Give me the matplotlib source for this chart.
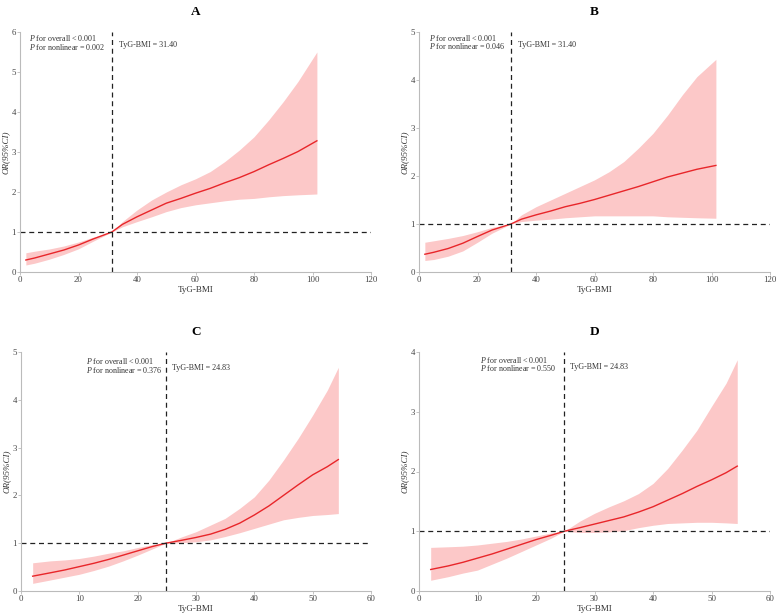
import matplotlib
matplotlib.use("Agg")
import matplotlib.pyplot as plt

plt.rcParams['font.family'] = ['Liberation Serif', 'DejaVu Serif']
plt.rcParams['mathtext.fontset'] = 'custom'
plt.rcParams['mathtext.it'] = 'Liberation Serif:italic'
plt.rcParams['mathtext.rm'] = 'Liberation Serif'

# Panel A
a_x = [2, 5, 10, 15, 20, 25, 31.4, 35, 40, 45, 50, 55, 60, 65, 70, 75, 80, 85, 90, 95, 101.5]
a_or = [0.30, 0.35, 0.45, 0.55, 0.675, 0.825, 1.0, 1.19, 1.38, 1.55, 1.72, 1.84, 1.97, 2.09,
        2.23, 2.36, 2.51, 2.68, 2.84, 3.01, 3.28]
a_lo = [0.175, 0.22, 0.32, 0.44, 0.58, 0.77, 1.0, 1.13, 1.26, 1.38, 1.51, 1.61, 1.68, 1.73,
        1.78, 1.82, 1.84, 1.88, 1.91, 1.93, 1.95]
a_hi = [0.48, 0.52, 0.575, 0.65, 0.75, 0.87, 1.0, 1.26, 1.55, 1.80, 2.0, 2.18, 2.33, 2.51,
        2.76, 3.05, 3.38, 3.8, 4.26, 4.76, 5.5]

# Panel B
b_x = [2, 5, 10, 15, 20, 25, 31.4, 35, 40, 45, 50, 55, 60, 65, 70, 75, 80, 85, 90, 95, 101.5]
b_or = [0.37, 0.41, 0.49, 0.60, 0.74, 0.875, 1.0, 1.10, 1.19, 1.27, 1.36, 1.43, 1.51, 1.60,
        1.69, 1.78, 1.88, 1.98, 2.06, 2.14, 2.22]
b_lo = [0.24, 0.26, 0.33, 0.44, 0.62, 0.81, 1.0, 1.05, 1.08, 1.10, 1.13, 1.15, 1.17, 1.17,
        1.17, 1.17, 1.17, 1.15, 1.14, 1.13, 1.12]
b_hi = [0.62, 0.65, 0.70, 0.76, 0.84, 0.93, 1.0, 1.19, 1.36, 1.50, 1.64, 1.78, 1.92, 2.09,
        2.30, 2.58, 2.89, 3.27, 3.69, 4.07, 4.43]

# Panel C
c_x = [2, 5, 7.5, 10, 12.5, 15, 17.5, 20, 22.5, 24.83, 27.5, 30, 32.5, 35, 37.5, 40,
       42.5, 45, 47.5, 50, 52.5, 54.4]
c_or = [0.31, 0.38, 0.44, 0.51, 0.58, 0.66, 0.75, 0.84, 0.93, 1.0, 1.06, 1.12, 1.19, 1.29,
        1.42, 1.59, 1.78, 2.0, 2.22, 2.43, 2.6, 2.75]
c_lo = [0.16, 0.23, 0.29, 0.35, 0.43, 0.52, 0.63, 0.75, 0.88, 1.0, 1.01, 1.03, 1.07, 1.14,
        1.22, 1.31, 1.40, 1.49, 1.54, 1.58, 1.60, 1.62]
c_hi = [0.59, 0.63, 0.65, 0.68, 0.73, 0.79, 0.84, 0.91, 0.97, 1.0, 1.13, 1.24, 1.38, 1.52,
        1.73, 1.97, 2.32, 2.74, 3.19, 3.68, 4.2, 4.68]

# Panel D
d_x = [2, 5, 7.5, 10, 12.5, 15, 17.5, 20, 22.5, 24.83, 27.5, 30, 32.5, 35, 37.5, 40,
       42.5, 45, 47.5, 50, 52.5, 54.4]
d_or = [0.36, 0.42, 0.48, 0.55, 0.62, 0.70, 0.78, 0.86, 0.93, 1.0, 1.06, 1.12, 1.18, 1.24,
        1.32, 1.41, 1.52, 1.63, 1.75, 1.86, 1.98, 2.09]
d_lo = [0.18, 0.24, 0.30, 0.35, 0.45, 0.55, 0.66, 0.77, 0.88, 1.0, 0.98, 0.98, 0.99, 1.01,
        1.06, 1.10, 1.13, 1.14, 1.15, 1.15, 1.14, 1.13]
d_hi = [0.73, 0.74, 0.75, 0.77, 0.80, 0.83, 0.87, 0.92, 0.97, 1.0, 1.17, 1.30, 1.41, 1.51,
        1.63, 1.80, 2.05, 2.36, 2.69, 3.09, 3.48, 3.87]

panels = [
    dict(title="A", x=a_x, y=a_or, lo=a_lo, hi=a_hi, cut=31.4, label="TyG-BMI = 31.40",
         p1="< 0.001", p2="= 0.002", xlim=120, xt=[0, 20, 40, 60, 80, 100, 120], ylim=6,
         px=3.0, lx=33.8, tf=0.975, pos=(20, 32, 351, 240)),
    dict(title="B", x=b_x, y=b_or, lo=b_lo, hi=b_hi, cut=31.4, label="TyG-BMI = 31.40",
         p1="< 0.001", p2="= 0.046", xlim=120, xt=[0, 20, 40, 60, 80, 100, 120], ylim=5,
         px=3.4, lx=33.8, tf=0.976, pos=(419, 32, 351, 240)),
    dict(title="C", x=c_x, y=c_or, lo=c_lo, hi=c_hi, cut=24.83, label="TyG-BMI = 24.83",
         p1="< 0.001", p2="= 0.376", xlim=60, xt=[0, 10, 20, 30, 40, 50, 60], ylim=5,
         px=11.1, lx=25.9, tf=0.962, pos=(21, 352, 350, 239)),
    dict(title="D", x=d_x, y=d_or, lo=d_lo, hi=d_hi, cut=24.83, label="TyG-BMI = 24.83",
         p1="< 0.001", p2="= 0.550", xlim=60, xt=[0, 10, 20, 30, 40, 50, 60], ylim=4,
         px=10.5, lx=25.8, tf=0.967, pos=(419, 352, 351, 239)),
]

W, H = 780, 614
fig = plt.figure(figsize=(W / 100, H / 100), dpi=100)

for p in panels:
    l, t, w, h = p["pos"]
    ax = fig.add_axes([l / W, (H - t - h) / H, w / W, h / H])
    ax.fill_between(p["x"], p["lo"], p["hi"], color="#FCC8C8", lw=0)
    ax.plot(p["x"], p["y"], color="#E8262A", lw=1.0)
    ax.axhline(1, color="#222222", ls=(0, (4, 3)), lw=0.9)
    ax.axvline(p["cut"], color="#222222", ls=(0, (4, 3)), lw=0.9)
    ax.set_xlim(0, p["xlim"])
    ax.set_ylim(0, p["ylim"])
    ax.set_xticks(p["xt"])
    ax.set_yticks(range(0, p["ylim"] + 1))
    for s in ["top", "right"]:
        ax.spines[s].set_visible(False)
    for s in ["left", "bottom"]:
        ax.spines[s].set_color("#BBBBBB")
        ax.spines[s].set_linewidth(0.8)
    ax.tick_params(labelsize=6.3, labelcolor="#444444", color="#BBBBBB",
                   length=2, width=0.6, pad=1)
    ax.set_xlabel("TyG-BMI", fontsize=6.5, color="#333333", labelpad=1)
    ax.set_ylabel("OR(95%CI)", fontsize=6.5, color="#333333", style="italic", labelpad=1)
    ax.set_title(p["title"], fontsize=9.5, fontweight="bold", pad=12)
    ty = p["ylim"] * p["tf"]
    dy = p["ylim"] * 0.036
    ax.text(p["px"], ty, r"$\it{P}$" + " for overall " + p["p1"], fontsize=5.8,
            color="#333333", va="center", ha="left")
    ax.text(p["px"], ty - dy, r"$\it{P}$" + " for nonlinear " + p["p2"], fontsize=5.8,
            color="#333333", va="center", ha="left")
    ax.text(p["lx"], ty - dy * 0.8, p["label"], fontsize=5.8, color="#333333",
            va="center", ha="left")

fig.savefig("out.png", dpi=100)
